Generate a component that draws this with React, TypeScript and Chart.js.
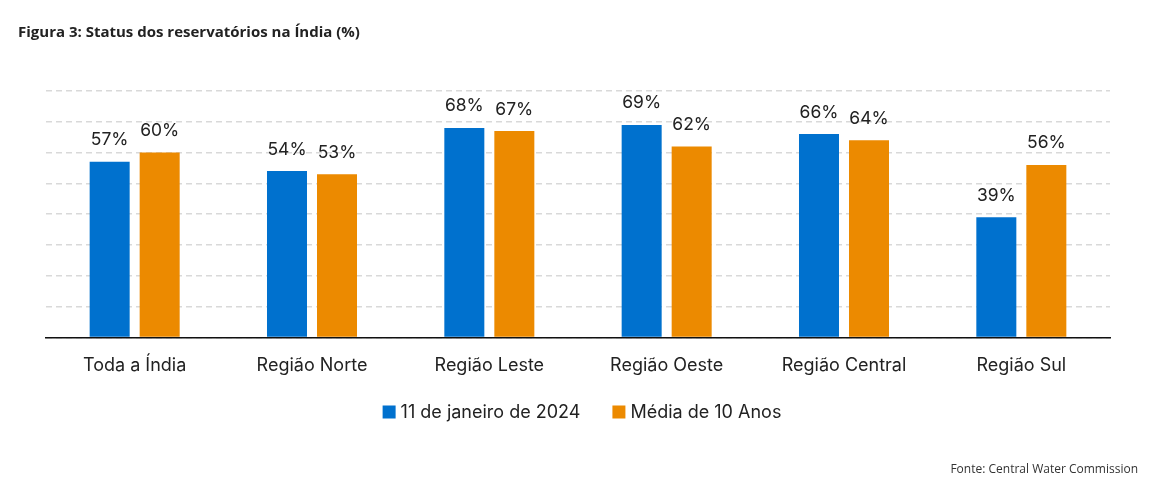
import React, { useEffect, useRef } from "react";
import { Chart, registerables } from "chart.js";

Chart.register(...registerables);

const categories = [
  "Toda a Índia",
  "Região Norte",
  "Região Leste",
  "Região Oeste",
  "Região Central",
  "Região Sul",
];
const currentLevels = [57, 54, 68, 69, 66, 39];
const tenYearAverage = [60, 53, 67, 62, 64, 56];
const seriesNames = ["11 de janeiro de 2024", "Média de 10 Anos"];

const BLUE = "#0071CE";
const ORANGE = "#EC8A00";
const LABEL_FONT = "Inter, 'Noto Sans', sans-serif";

// Percent labels above every bar
const valueLabels = {
  id: "valueLabels",
  afterDatasetsDraw(chart: any) {
    const { ctx } = chart;
    ctx.save();
    ctx.font = `400 17.5px ${LABEL_FONT}`;
    ctx.fillStyle = "#222";
    ctx.textAlign = "center";
    ctx.textBaseline = "bottom";
    chart.data.datasets.forEach((ds: any, i: number) => {
      const meta = chart.getDatasetMeta(i);
      meta.data.forEach((bar: any, j: number) => {
        ctx.fillText(`${ds.data[j]}%`, bar.x, bar.y - 13);
      });
    });
    ctx.restore();
  },
};

// Compact legend row centred under the plot
const bottomLegend = {
  id: "bottomLegend",
  afterDraw(chart: any) {
    const { ctx, chartArea } = chart;
    const box = 13;
    const boxGap = 5;
    const itemGap = 32;
    const y = 412;
    ctx.save();
    ctx.font = `400 18px ${LABEL_FONT}`;
    ctx.textBaseline = "middle";
    ctx.textAlign = "left";
    const items = chart.data.datasets.map((ds: any) => ({
      label: ds.label,
      color: ds.backgroundColor,
      w: box + boxGap + ctx.measureText(ds.label).width,
    }));
    const total =
      items.reduce((s: number, it: any) => s + it.w, 0) + itemGap * (items.length - 1);
    let x = (chartArea.left + chartArea.right) / 2 + 4 - total / 2;
    items.forEach((it: any) => {
      ctx.fillStyle = it.color;
      ctx.fillRect(x, y - box / 2, box, box);
      ctx.fillStyle = "#222";
      ctx.fillText(it.label, x + box + boxGap, y + 1);
      x += it.w + itemGap;
    });
    ctx.restore();
  },
};

export default function App() {
  const canvasRef = useRef<HTMLCanvasElement | null>(null);

  useEffect(() => {
    if (!canvasRef.current) return;
    const chart = new Chart(canvasRef.current, {
      type: "bar",
      data: {
        labels: categories,
        datasets: [
          {
            label: seriesNames[0],
            data: currentLevels,
            backgroundColor: BLUE,
            categoryPercentage: 0.564,
            barPercentage: 0.8,
          },
          {
            label: seriesNames[1],
            data: tenYearAverage,
            backgroundColor: ORANGE,
            categoryPercentage: 0.564,
            barPercentage: 0.8,
          },
        ],
      },
      options: {
        animation: false,
        responsive: false,
        layout: { padding: { top: 91, left: 46, right: 43, bottom: 101 } },
        plugins: {
          legend: { display: false },
          tooltip: { enabled: false },
        },
        scales: {
          x: {
            grid: { display: false },
            border: { color: "#111", width: 1.5 },
            ticks: {
              color: "#222",
              padding: 9,
              font: { size: 18, family: LABEL_FONT },
            },
          },
          y: {
            min: 0,
            max: 80,
            ticks: { display: false, stepSize: 10 },
            border: { display: false, dash: [6, 4] },
            grid: { color: "#d9d9d9", lineWidth: 1.5, drawTicks: false },
          },
        },
      },
      plugins: [valueLabels, bottomLegend],
    });
    return () => chart.destroy();
  }, []);

  return (
    <div style={{ position: "fixed", inset: 0, background: "#fff" }}>
      <div
        style={{
          position: "absolute",
          left: 18,
          top: 21,
          fontFamily: "'Open Sans', sans-serif",
          fontWeight: 700,
          fontSize: 15,
          color: "#222",
        }}
      >
        Figura 3: Status dos reservatórios na Índia (%)
      </div>
      <canvas ref={canvasRef} width={1153} height={486} style={{ display: "block" }} />
      <div
        style={{
          position: "absolute",
          right: 15,
          top: 460,
          fontFamily: "'Open Sans', sans-serif",
          fontSize: 12,
          color: "#333",
        }}
      >
        Fonte: Central Water Commission
      </div>
    </div>
  );
}
